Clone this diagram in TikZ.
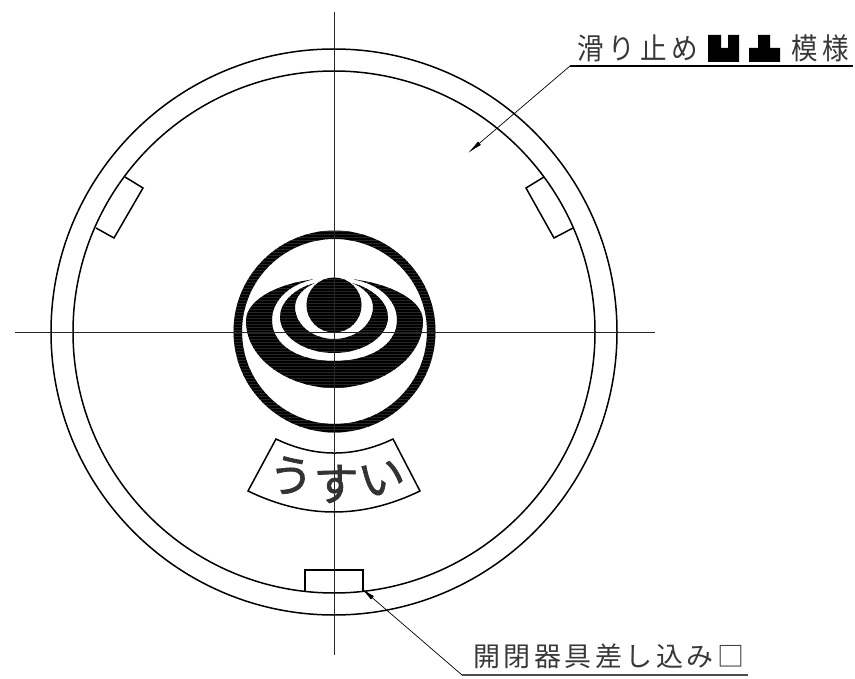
\documentclass[tikz,border=0pt]{standalone}
\usepackage{fontspec}
\usetikzlibrary{arrows.meta,patterns}
\newfontfamily\jpfont{Noto Sans CJK JP}
\newfontfamily\jpfat[FakeBold=1.6]{Noto Sans CJK JP}
\newfontfamily\jptall[FakeStretch=0.9]{Noto Sans CJK JP}
\tikzset{
  outline/.style={draw=black,line width=1.5pt},
  centerline/.style={draw=black!85,line width=0.8pt},
  leader/.style={draw=black,line width=0.7pt},
  shelf/.style={draw=black,line width=1.3pt},
  solid fill/.style={fill=black,draw=none,postaction={pattern=horizontal lines,pattern color=black!85}},
  tip/.style={-{Latex[length=15pt,width=4.5pt]}},
  cadlabel/.style={inner sep=0pt,anchor=west,text=black!78},
  toplabel/.style={cadlabel,font=\jptall\fontsize{29.5}{29.5}\selectfont},
  lowlabel/.style={cadlabel,font=\jpfont\fontsize{27}{27}\selectfont},
  platechar/.style={inner sep=0pt,font=\jpfat\fontsize{45}{45}\selectfont,text=black!80}
}
\begin{document}
\begin{tikzpicture}[x=1pt,y=-1pt]
\useasboundingbox (0,0) rectangle (855,679);
% rim
\draw[outline] (334,332) circle[radius=283];
\draw[outline] (334,332) circle[radius=261];
% slots
\draw[outline] (125,177) -- (143,188) -- (114,238) -- (96,228);
\draw[outline] (544,177) -- (526,188) -- (554,238) -- (573,228);
\draw[outline] (305,591) -- (305,570) -- (363,570) -- (363,591);
% emblem
\fill[solid fill,even odd rule] (334.5,331.5) circle[radius=101] (334.5,331.5) circle[radius=92.5];
\fill[solid fill] (313,279.5) .. controls (282,283) and (246,298) .. (246,321)
  .. controls (246,360) and (290,388) .. (334,388)
  .. controls (378,388) and (423,360) .. (423,321)
  .. controls (423,298) and (385,283) .. (354,279.5)
  .. controls (382,285) and (397,302) .. (397,320)
  .. controls (397,345) and (370,361) .. (334,361)
  .. controls (298,361) and (272,345) .. (272,320)
  .. controls (272,302) and (287,285) .. (313,279.5) -- cycle;
\fill[solid fill] (315,283) .. controls (295,288) and (280,302) .. (280,317)
  .. controls (280,337) and (305,353) .. (334,353)
  .. controls (363,353) and (388,337) .. (388,317)
  .. controls (388,302) and (372,288) .. (352,283)
  .. controls (365,288) and (373,297) .. (373,307)
  .. controls (373,325) and (355,339) .. (334,339)
  .. controls (313,339) and (295,325) .. (295,307)
  .. controls (295,297) and (303,288) .. (315,283) -- cycle;
\fill[solid fill] (334,305) circle[radius=27.5];
% plate
\draw[outline] (276,439) .. controls (315,457.7) and (354,457.7) .. (393,439)
  -- (420,491) .. controls (362,519) and (306,519) .. (248,491) -- cycle;
% centre lines
\draw[centerline] (334,12) -- (334,655);
\draw[centerline] (15,332) -- (655,332);
% plate text
\node[platechar,rotate=-6] (pu) at (291,476) {う};
\node[platechar] (ps) at (336,484) {す};
\node[platechar,rotate=14] (pi) at (382,478) {い};
% upper label
\coordinate (ua) at (468,153);
\coordinate (ub) at (570,66);
\coordinate (uc) at (853,66);
\draw[leader,tip] (ub) -- (ua);
\draw[shelf] (ub) -- (uc);
\node[toplabel] (lu1) at (577,48.5) {\addfontfeature{LetterSpace=17}滑り止め};
\fill[fill=black] (708,35) -- (721,35) -- (721,48) -- (728,48) -- (728,35) -- (739,35) -- (739,62) -- (708,62) -- cycle;
\fill[fill=black] (758,35) -- (770,35) -- (770,48) -- (780,48) -- (780,62) -- (749,62) -- (749,48) -- (758,48) -- cycle;
\node[toplabel] (lu2) at (791,48.5) {\addfontfeature{LetterSpace=17}模様};
% lower label
\coordinate (la) at (361,588);
\coordinate (lb) at (462,675);
\coordinate (lc) at (748,675);
\draw[leader,tip] (lb) -- (la);
\draw[shelf,draw=black!70] (lb) -- (lc);
\node[lowlabel] (ll) at (473,656) {\addfontfeature{LetterSpace=13}開閉器具差し込み□};
\end{tikzpicture}
\end{document}
